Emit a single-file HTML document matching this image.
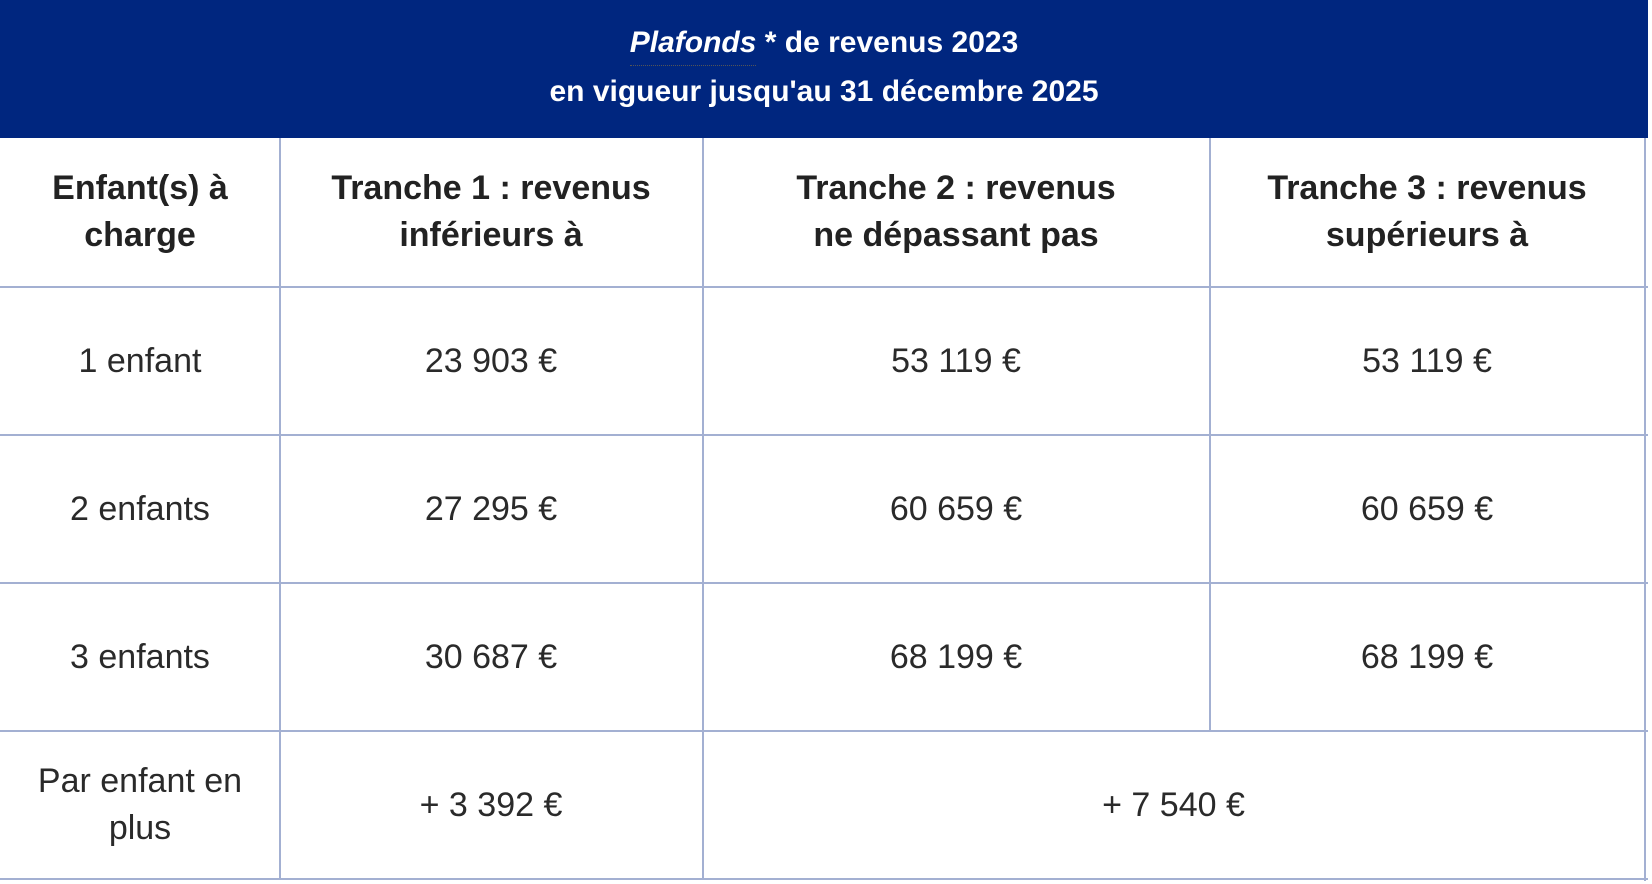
<!DOCTYPE html>
<html><head><meta charset="utf-8"><style>
html,body{margin:0;padding:0;background:#fff;width:1652px;height:884px;overflow:hidden;font-family:"Liberation Sans",sans-serif;}
.hdr{position:absolute;left:0;top:0;width:1648px;height:138px;background:#00267f;color:#fff;font-weight:bold;font-size:30px;text-align:center;}
.hdr .l1{position:absolute;top:23px;left:0;width:100%;line-height:40px;}
.hdr .l2{position:absolute;top:72px;left:0;width:100%;line-height:40px;}
.hline{position:absolute;height:2px;background:#a3b0d2;}
.vline{position:absolute;width:2px;background:#a3b0d2;}
.cell{position:absolute;display:flex;align-items:center;justify-content:center;text-align:center;color:#222;}
.th{font-weight:bold;font-size:34px;line-height:47px;}
.td{font-size:34px;line-height:47px;color:#2a2a2a;}
</style></head><body>
<div class="hdr">
<div class="l1"><i style="border-bottom:1px dotted #555;padding-bottom:6px">Plafonds</i> * de revenus 2023</div>
<div class="l2">en vigueur jusqu'au 31 décembre 2025</div>
</div>
<div class="vline" style="left:1644px;top:138px;height:743px"></div>
<div class="hline" style="left:0;top:286px;width:1648px"></div>
<div class="hline" style="left:0;top:434px;width:1648px"></div>
<div class="hline" style="left:0;top:582px;width:1648px"></div>
<div class="hline" style="left:0;top:730px;width:1648px"></div>
<div class="hline" style="left:0;top:878px;width:1648px"></div>
<div class="vline" style="left:279px;top:138px;height:742px"></div>
<div class="vline" style="left:702px;top:138px;height:742px"></div>
<div class="vline" style="left:1209px;top:138px;height:593px"></div>

<div class="cell th" style="left:0;top:138px;width:280px;height:148px">Enfant(s) à<br>charge</div>
<div class="cell th" style="left:280px;top:138px;width:422px;height:148px">Tranche 1 : revenus<br>inférieurs à</div>
<div class="cell th" style="left:703px;top:138px;width:506px;height:148px">Tranche 2 : revenus<br>ne dépassant pas</div>
<div class="cell th" style="left:1210px;top:138px;width:434px;height:148px">Tranche 3 : revenus<br>supérieurs à</div>

<div class="cell td" style="left:0;top:288px;width:280px;height:146px">1 enfant</div>
<div class="cell td" style="left:280px;top:288px;width:422px;height:146px">23 903 €</div>
<div class="cell td" style="left:703px;top:288px;width:506px;height:146px">53 119 €</div>
<div class="cell td" style="left:1210px;top:288px;width:434px;height:146px">53 119 €</div>

<div class="cell td" style="left:0;top:436px;width:280px;height:146px">2 enfants</div>
<div class="cell td" style="left:280px;top:436px;width:422px;height:146px">27 295 €</div>
<div class="cell td" style="left:703px;top:436px;width:506px;height:146px">60 659 €</div>
<div class="cell td" style="left:1210px;top:436px;width:434px;height:146px">60 659 €</div>

<div class="cell td" style="left:0;top:584px;width:280px;height:146px">3 enfants</div>
<div class="cell td" style="left:280px;top:584px;width:422px;height:146px">30 687 €</div>
<div class="cell td" style="left:703px;top:584px;width:506px;height:146px">68 199 €</div>
<div class="cell td" style="left:1210px;top:584px;width:434px;height:146px">68 199 €</div>

<div class="cell td" style="left:0;top:732px;width:280px;height:146px">Par enfant en<br>plus</div>
<div class="cell td" style="left:280px;top:732px;width:422px;height:146px">+ 3 392 €</div>
<div class="cell td" style="left:703px;top:732px;width:941px;height:146px">+ 7 540 €</div>
</body></html>
